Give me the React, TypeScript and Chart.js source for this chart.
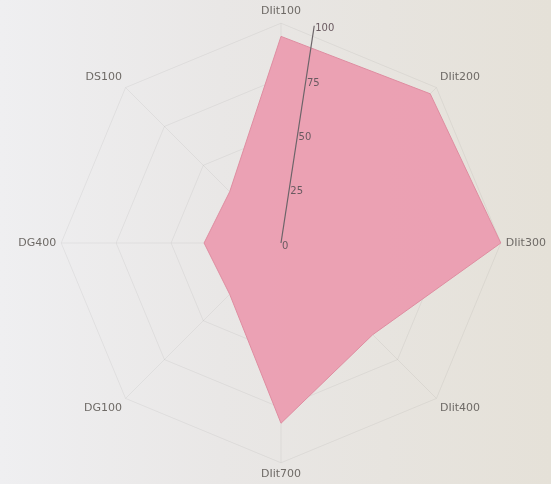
import React, { useEffect, useRef } from "react";
import { Chart, registerables } from "chart.js";

Chart.register(...registerables);

const categories = ["DIit100", "DIit200", "DIit300", "DIit400", "DIit700", "DG100", "DG400", "DS100"];
const values = [94, 96, 100, 59, 82, 33, 35, 33];
const tickValues = [0, 25, 50, 75, 100];

const tiltedAxis = {
  id: "tiltedAxis",
  afterDatasetsDraw(chart: any) {
    const scale = chart.scales.r;
    const ctx = chart.ctx;
    const ang = (8.7 * Math.PI) / 180;
    const sx = Math.sin(ang);
    const cy = -Math.cos(ang);
    const x0 = scale.xCenter;
    const y0 = scale.yCenter;
    const rMax = scale.getDistanceFromCenterForValue(100);
    ctx.save();
    ctx.strokeStyle = "#6b6468";
    ctx.lineWidth = 1.2;
    ctx.beginPath();
    ctx.moveTo(x0, y0);
    ctx.lineTo(x0 + sx * rMax, y0 + cy * rMax);
    ctx.stroke();
    ctx.fillStyle = "#6a5a60";
    ctx.font = "10px 'DejaVu Sans'";
    ctx.textAlign = "left";
    ctx.textBaseline = "middle";
    tickValues.forEach((v) => {
      const d = scale.getDistanceFromCenterForValue(v);
      ctx.fillText(String(v), x0 + sx * d + 1, y0 + cy * d + 3);
    });
    ctx.restore();
  },
};

export default function App() {
  const ref = useRef<HTMLCanvasElement | null>(null);
  useEffect(() => {
    if (!ref.current) return;
    const chart = new Chart(ref.current, {
      type: "radar",
      data: {
        labels: categories,
        datasets: [
          {
            data: values,
            backgroundColor: "rgba(234,158,178,0.97)",
            borderColor: "rgba(222,140,160,1)",
            borderWidth: 1,
            pointRadius: 0,
            fill: true,
          },
        ],
      },
      options: {
        animation: false,
        responsive: false,
        layout: { padding: { left: 14, right: 0, top: 5, bottom: 3 } },
        plugins: { legend: { display: false }, tooltip: { enabled: false } },
        scales: {
          r: {
            min: 0,
            max: 100,
            ticks: { display: false, stepSize: 25 },
            grid: { color: "rgba(0,0,0,0.05)" },
            angleLines: { color: "rgba(0,0,0,0.05)" },
            pointLabels: {
              color: "#6e6a66",
              font: { size: 11, family: "'DejaVu Sans'" },
              padding: 5,
            },
          },
        },
      },
      plugins: [tiltedAxis],
    });
    return () => chart.destroy();
  }, []);
  return (
    <div
      style={{
        position: "fixed",
        left: 0,
        top: 0,
        width: 551,
        height: 484,
        background: "linear-gradient(90deg, #efeff1 0%, #e9e7e6 40%, #e5e1d8 100%)",
      }}
    >
      <canvas ref={ref} width={551} height={484} />
    </div>
  );
}
